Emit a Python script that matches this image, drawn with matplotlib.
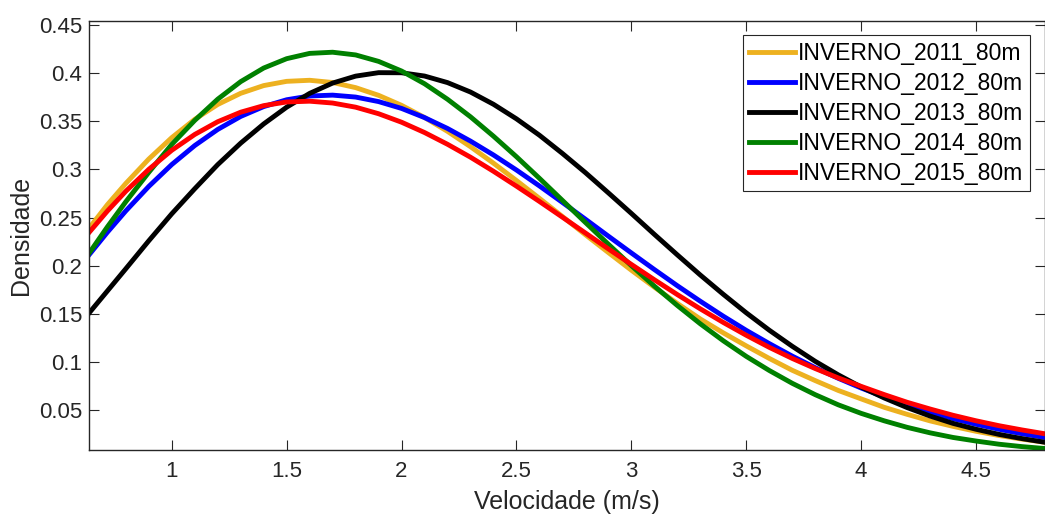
import matplotlib
matplotlib.use('Agg')
import matplotlib.pyplot as plt

plt.rcParams['font.family'] = ['Liberation Sans', 'DejaVu Sans']

# wind speed (m/s) where the curves were read
velocidade = [0.64, 0.72, 0.8, 0.9, 1.0, 1.1, 1.2, 1.3, 1.4, 1.5, 1.6, 1.7, 1.8, 1.9, 2.0,
              2.1, 2.2, 2.3, 2.4, 2.5, 2.6, 2.7, 2.8, 2.9, 3.0,
              3.1, 3.2, 3.3, 3.4, 3.5, 3.6, 3.7, 3.8, 3.9, 4.0,
              4.1, 4.2, 4.3, 4.4, 4.5, 4.6, 4.7, 4.8]

inv_2011 = [0.239, 0.2635, 0.2855, 0.3108, 0.3330, 0.3520, 0.3674, 0.3790, 0.3870, 0.3914,
            0.3925, 0.3902, 0.3849, 0.3769, 0.3665, 0.3539, 0.3395, 0.3236, 0.3065, 0.2885,
            0.2700, 0.2512, 0.2323, 0.2138, 0.1955,
            0.1779, 0.1610, 0.1449, 0.1305, 0.117, 0.104, 0.0917, 0.081, 0.0708, 0.062,
            0.0533, 0.046, 0.0392, 0.0335, 0.0284, 0.024, 0.0203, 0.017]
inv_2012 = [0.2114, 0.2349, 0.2570, 0.2824, 0.3051, 0.3248, 0.3415, 0.3550, 0.3652, 0.3723,
            0.3762, 0.3771, 0.3751, 0.3704, 0.3633, 0.3538, 0.3425, 0.3294, 0.3150, 0.2994,
            0.2829, 0.2658, 0.2484, 0.2308, 0.2134,
            0.1962, 0.1794, 0.1633, 0.1478, 0.1331, 0.1194, 0.1064, 0.0944, 0.0834, 0.0733,
            0.0641, 0.0558, 0.0483, 0.0416, 0.0357, 0.0305, 0.0259, 0.0219]
inv_2013 = [0.151, 0.174, 0.197, 0.226, 0.254, 0.280, 0.305, 0.3273, 0.3472, 0.3646,
            0.3789, 0.3896, 0.3968, 0.4004, 0.4003, 0.3969, 0.3901, 0.3803, 0.3676, 0.3525,
            0.3355, 0.3166, 0.2967, 0.2757, 0.2544,
            0.2327, 0.2114, 0.1905, 0.1705, 0.1513, 0.1333, 0.1166, 0.1010, 0.0870, 0.0743,
            0.0630, 0.0530, 0.0442, 0.0366, 0.0305, 0.0252, 0.0208, 0.017]
inv_2014 = [0.213, 0.2405, 0.2665, 0.297, 0.3260, 0.3509, 0.3729, 0.3911, 0.4052, 0.4149,
            0.4204, 0.4216, 0.4188, 0.4121, 0.4021, 0.3889, 0.3728, 0.3546, 0.3345, 0.3132,
            0.2908, 0.2679, 0.2450, 0.2224, 0.2002,
            0.1790, 0.1589, 0.1399, 0.1223, 0.1061, 0.0915, 0.0782, 0.0664, 0.0559, 0.0470,
            0.0393, 0.0325, 0.0268, 0.022, 0.0183, 0.015, 0.0125, 0.0105]
inv_2015 = [0.2346, 0.2569, 0.2774, 0.3001, 0.3199, 0.3363, 0.3495, 0.3594, 0.3662, 0.3700,
            0.3708, 0.3689, 0.3646, 0.3578, 0.3490, 0.3383, 0.3261, 0.3127, 0.2981, 0.2827,
            0.2668, 0.2505, 0.2341, 0.2176, 0.2015,
            0.1856, 0.1702, 0.1554, 0.1413, 0.128, 0.1155, 0.1040, 0.0935, 0.0838, 0.075,
            0.0665, 0.0585, 0.0515, 0.045, 0.0393, 0.0342, 0.0298, 0.0258]

labels = ['INVERNO_2011_80m', 'INVERNO_2012_80m', 'INVERNO_2013_80m',
          'INVERNO_2014_80m', 'INVERNO_2015_80m']
series = [inv_2011, inv_2012, inv_2013, inv_2014, inv_2015]
colors = ['#EDB120', '#0000FF', '#000000', '#008000', '#FF0000']

xticks = [1, 1.5, 2, 2.5, 3, 3.5, 4, 4.5]
yticks = [0.05, 0.1, 0.15, 0.2, 0.25, 0.3, 0.35, 0.4, 0.45]

fig = plt.figure(figsize=(10.45, 5.17), dpi=100)
ax = fig.add_axes([0.0852, 0.1296, 0.9148, 0.8298])

for ys, c, lab in zip(series, colors, labels):
    ax.plot(velocidade, ys, color=c, lw=3.5, label=lab)

ax.set_xlim(0.64, 4.8)
ax.set_ylim(0.009, 0.454)
ax.set_xticks(xticks)
ax.set_xticklabels([f'{t:g}' for t in xticks])
ax.set_yticks(yticks)
ax.set_yticklabels([f'{t:g}' for t in yticks])

axcol = '#262626'
for s in ax.spines.values():
    s.set_color(axcol)
    s.set_linewidth(1.0)
ax.tick_params(axis='both', direction='in', length=7, width=0.8, color=axcol,
               labelcolor=axcol, labelsize=16, top=True, right=True)
ax.tick_params(axis='x', pad=8)
ax.tick_params(axis='y', pad=5)

ax.set_xlabel('Velocidade (m/s)', fontsize=18, color=axcol, labelpad=6)
ax.set_ylabel('Densidade', fontsize=18, color=axcol, labelpad=4)

leg = ax.legend(loc='upper right', bbox_to_anchor=(0.984, 0.967), borderaxespad=0,
                fontsize=16.5, handlelength=2.0, handletextpad=0.1, labelspacing=0.3,
                borderpad=0.3, fancybox=False, framealpha=1, edgecolor=axcol)
leg.get_frame().set_linewidth(0.8)
for t in leg.get_texts():
    t.set_color('black')

fig.savefig('out.png', dpi=100, facecolor='white')
